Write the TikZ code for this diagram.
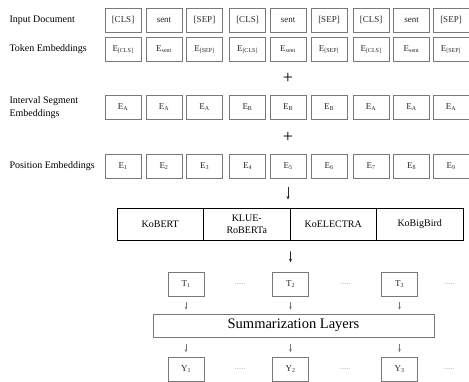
\documentclass[tikz,border=0pt]{standalone}
\usepackage{fontspec}
\setmainfont{Liberation Serif}
\usepackage{xcolor}
\usetikzlibrary{positioning, arrows.meta}
\definecolor{boxGray}{RGB}{120,120,120}
\definecolor{inkGray}{RGB}{40,40,40}

\begin{document}
\begin{tikzpicture}[
    x=1pt, y=-1pt,
    font=\fontsize{9}{10}\selectfont\color{inkGray},
    lbl/.style={anchor=west, align=left, font=\fontsize{10}{13}\selectfont},
    tok/.style={rectangle, draw=boxGray, line width=0.6pt, inner sep=0pt,
        minimum height=24pt, minimum width=36pt},
    enc/.style={rectangle, draw=black, line width=0.9pt, inner sep=0pt, align=center,
        minimum height=32pt, minimum width=86.5pt, font=\fontsize{10}{12}\selectfont},
    plus/.style={font=\fontsize{18}{18}\selectfont},
    dotsep/.style={font=\fontsize{7}{7}\selectfont\color{boxGray!80}},
    arr/.style={-{Stealth[length=3.5pt, width=3pt]}, line width=0.6pt, inkGray},
    sarr/.style={-{Stealth[length=3pt, width=2.6pt]}, line width=0.4pt, boxGray}
]
\useasboundingbox (0,0) rectangle (469,382);

% row labels
\node[lbl] (lin)  at (6,20)    {Input Document};
\node[lbl] (ltok) at (6,49.5)  {Token Embeddings};
\node[lbl] (lseg) at (6,107.5) {Interval Segment\\Embeddings};
\node[lbl] (lpos) at (6,166.5) {Position Embeddings};

% input document
\node[tok] (in1) at (123,20)   {[CLS]};
\node[tok] (in2) at (164,20)   {sent};
\node[tok] (in3) at (204.5,20) {[SEP]};
\node[tok] (in4) at (247.5,20) {[CLS]};
\node[tok] (in5) at (288,20)   {sent};
\node[tok] (in6) at (329,20)   {[SEP]};
\node[tok] (in7) at (371,20)   {[CLS]};
\node[tok] (in8) at (411.5,20) {sent};
\node[tok] (in9) at (451,20)   {[SEP]};

% token embeddings
\node[tok] (tk1) at (123,49.5)   {E\textsubscript{[CLS]}};
\node[tok] (tk2) at (164,49.5)   {E\textsubscript{sent}};
\node[tok] (tk3) at (204.5,49.5) {E\textsubscript{[SEP]}};
\node[tok] (tk4) at (247.5,49.5) {E\textsubscript{[CLS]}};
\node[tok] (tk5) at (288,49.5)   {E\textsubscript{sent}};
\node[tok] (tk6) at (329,49.5)   {E\textsubscript{[SEP]}};
\node[tok] (tk7) at (371,49.5)   {E\textsubscript{[CLS]}};
\node[tok] (tk8) at (411.5,49.5) {E\textsubscript{sent}};
\node[tok] (tk9) at (451,49.5)   {E\textsubscript{[SEP]}};

\node[plus] (plus1) at (288,78) {+};

% interval segment embeddings
\node[tok] (sg1) at (123,107.5)   {E\textsubscript{A}};
\node[tok] (sg2) at (164,107.5)   {E\textsubscript{A}};
\node[tok] (sg3) at (204.5,107.5) {E\textsubscript{A}};
\node[tok] (sg4) at (247.5,107.5) {E\textsubscript{B}};
\node[tok] (sg5) at (288,107.5)   {E\textsubscript{B}};
\node[tok] (sg6) at (329,107.5)   {E\textsubscript{B}};
\node[tok] (sg7) at (371,107.5)   {E\textsubscript{A}};
\node[tok] (sg8) at (411.5,107.5) {E\textsubscript{A}};
\node[tok] (sg9) at (451,107.5)   {E\textsubscript{A}};

\node[plus] (plus2) at (288,137) {+};

% position embeddings
\node[tok] (ps1) at (123,166.5)   {E\textsubscript{1}};
\node[tok] (ps2) at (164,166.5)   {E\textsubscript{2}};
\node[tok] (ps3) at (204.5,166.5) {E\textsubscript{3}};
\node[tok] (ps4) at (247.5,166.5) {E\textsubscript{4}};
\node[tok] (ps5) at (288,166.5)   {E\textsubscript{5}};
\node[tok] (ps6) at (329,166.5)   {E\textsubscript{6}};
\node[tok] (ps7) at (371,166.5)   {E\textsubscript{7}};
\node[tok] (ps8) at (411.5,166.5) {E\textsubscript{8}};
\node[tok] (ps9) at (451,166.5)   {E\textsubscript{9}};

% encoders
\node[enc] (kobert)    at (160.25,224) {KoBERT};
\node[enc] (klue)      at (246.75,224) {KLUE-\\RoBERTa};
\node[enc] (koelectra) at (333.25,224) {KoELECTRA};
\node[enc] (kobigbird) at (419.75,224) {KoBigBird};

% sentence outputs
\node[tok] (t1) at (186,284.5)   {T\textsubscript{1}};
\node[tok] (t2) at (290.5,284.5) {T\textsubscript{2}};
\node[tok] (t3) at (399.5,284.5) {T\textsubscript{3}};
\node[dotsep] (td1) at (240,284.5) {......};
\node[dotsep] (td2) at (345,284.5) {......};
\node[dotsep] (td3) at (449,284.5) {......};

\node[tok, minimum width=281pt, minimum height=23pt, font=\fontsize{14.5}{15}\selectfont]
    (summ) at (293.5,325.5) {Summarization Layers};

\node[tok] (y1) at (186,369.5)   {Y\textsubscript{1}};
\node[tok] (y2) at (290.5,369.5) {Y\textsubscript{2}};
\node[tok] (y3) at (399.5,369.5) {Y\textsubscript{3}};
\node[dotsep] (yd1) at (240,369.5) {......};
\node[dotsep] (yd2) at (345,369.5) {......};
\node[dotsep] (yd3) at (449,369.5) {......};

\draw[arr, shorten <=8pt, shorten >=8pt] (ps5.south) -- (ps5.south |- klue.north);
\draw[arr, shorten <=11pt, shorten >=10pt] (klue.south east) -- (t2.north);
\draw[sarr, shorten <=5pt, shorten >=4pt] (t1) -- (t1 |- summ.north);
\draw[sarr, shorten <=5pt, shorten >=4pt] (t2) -- (t2 |- summ.north);
\draw[sarr, shorten <=5pt, shorten >=4pt] (t3) -- (t3 |- summ.north);
\draw[sarr, shorten <=7pt, shorten >=5pt] (y1 |- summ.south) -- (y1);
\draw[sarr, shorten <=7pt, shorten >=5pt] (y2 |- summ.south) -- (y2);
\draw[sarr, shorten <=7pt, shorten >=5pt] (y3 |- summ.south) -- (y3);
\end{tikzpicture}
\end{document}
